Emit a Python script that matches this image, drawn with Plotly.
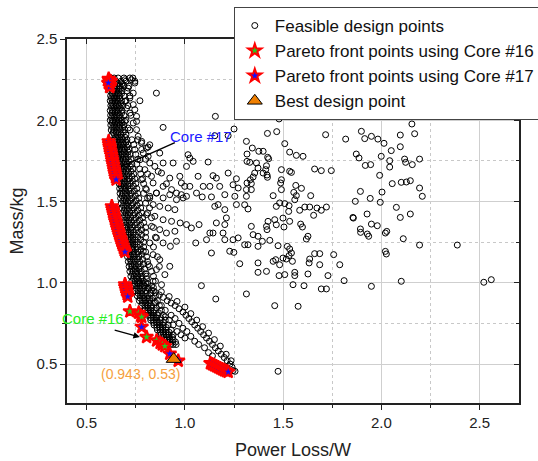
import plotly.graph_objects as go

# ---------------- data ----------------
# Feasible design points: dense band along the front (upper part)
band_upper = [
    (0.625, 2.26), (0.64, 2.26), (0.66, 2.26), (0.69, 2.26), (0.72, 2.26), (0.735, 2.26),
    (0.62, 2.24), (0.635, 2.24), (0.65, 2.24), (0.675, 2.24), (0.70, 2.24), (0.745, 2.24),
    (0.625, 2.21), (0.64, 2.21), (0.655, 2.21), (0.67, 2.21), (0.69, 2.21), (0.715, 2.21),
    (0.62, 2.18), (0.633, 2.18), (0.648, 2.18), (0.665, 2.18), (0.68, 2.18), (0.705, 2.18),
    (0.622, 2.15), (0.637, 2.15), (0.652, 2.15), (0.668, 2.15), (0.69, 2.15), (0.72, 2.15),
    (0.62, 2.12), (0.632, 2.12), (0.645, 2.12), (0.66, 2.12), (0.678, 2.12), (0.70, 2.12),
    (0.623, 2.09), (0.636, 2.09), (0.65, 2.09), (0.665, 2.09), (0.685, 2.09), (0.71, 2.09),
    (0.62, 2.06), (0.633, 2.06), (0.647, 2.06), (0.662, 2.06), (0.68, 2.06),
    (0.622, 2.03), (0.637, 2.03), (0.652, 2.03), (0.668, 2.03), (0.69, 2.03), (0.725, 2.03),
    (0.62, 2.00), (0.633, 2.00), (0.648, 2.00), (0.665, 2.00), (0.68, 2.00), (0.70, 2.00),
    (0.623, 1.97), (0.638, 1.97), (0.653, 1.97), (0.67, 1.97), (0.69, 1.97),
    (0.625, 1.94), (0.64, 1.94), (0.655, 1.94), (0.672, 1.94), (0.695, 1.94), (0.72, 1.94),
    (0.628, 1.91), (0.642, 1.91), (0.658, 1.91), (0.675, 1.91), (0.70, 1.91),
    (0.64, 1.88), (0.655, 1.88), (0.67, 1.88), (0.685, 1.88), (0.705, 1.88), (0.73, 1.88), (0.76, 1.88),
    (0.645, 1.85), (0.66, 1.85), (0.675, 1.85), (0.69, 1.85), (0.71, 1.85), (0.74, 1.85),
    (0.648, 1.82), (0.663, 1.82), (0.678, 1.82), (0.695, 1.82), (0.715, 1.82), (0.745, 1.82), (0.78, 1.82),
    (0.65, 1.79), (0.665, 1.79), (0.68, 1.79), (0.70, 1.79), (0.72, 1.79), (0.75, 1.79),
    (0.653, 1.76), (0.668, 1.76), (0.685, 1.76), (0.70, 1.76), (0.725, 1.76), (0.76, 1.76), (0.80, 1.76),
    (0.655, 1.73), (0.67, 1.73), (0.688, 1.73), (0.705, 1.73), (0.73, 1.73), (0.755, 1.73),
    (0.658, 1.70), (0.673, 1.70), (0.69, 1.70), (0.71, 1.70), (0.735, 1.70), (0.77, 1.70),
    (0.66, 1.67), (0.676, 1.67), (0.693, 1.67), (0.713, 1.67), (0.74, 1.67), (0.775, 1.67), (0.81, 1.67),
    (0.662, 1.64), (0.678, 1.64), (0.695, 1.64), (0.716, 1.64), (0.745, 1.64), (0.785, 1.64),
    (0.665, 1.61), (0.68, 1.61), (0.698, 1.61), (0.72, 1.61), (0.75, 1.61), (0.79, 1.61),
    (0.668, 1.58), (0.683, 1.58), (0.70, 1.58), (0.722, 1.58), (0.755, 1.58), (0.80, 1.58),
]

# Dense band (middle part)
band_middle = [
    (0.67, 1.55), (0.686, 1.55), (0.704, 1.55), (0.726, 1.55), (0.76, 1.55), (0.79, 1.55),
    (0.673, 1.52), (0.69, 1.52), (0.708, 1.52), (0.73, 1.52), (0.765, 1.52), (0.81, 1.52),
    (0.676, 1.49), (0.693, 1.49), (0.712, 1.49), (0.735, 1.49), (0.77, 1.49), (0.80, 1.49),
    (0.68, 1.46), (0.697, 1.46), (0.716, 1.46), (0.74, 1.46), (0.775, 1.46), (0.82, 1.46),
    (0.683, 1.43), (0.70, 1.43), (0.72, 1.43), (0.745, 1.43), (0.78, 1.43), (0.81, 1.43),
    (0.686, 1.40), (0.704, 1.40), (0.724, 1.40), (0.75, 1.40), (0.785, 1.40), (0.83, 1.40),
    (0.69, 1.37), (0.708, 1.37), (0.728, 1.37), (0.755, 1.37), (0.79, 1.37),
    (0.694, 1.34), (0.712, 1.34), (0.732, 1.34), (0.76, 1.34), (0.80, 1.34), (0.84, 1.34),
    (0.698, 1.31), (0.716, 1.31), (0.737, 1.31), (0.765, 1.31), (0.80, 1.31),
    (0.70, 1.28), (0.716, 1.28), (0.736, 1.28), (0.76, 1.28), (0.80, 1.28), (0.85, 1.28),
    (0.70, 1.25), (0.716, 1.25), (0.735, 1.25), (0.758, 1.25), (0.79, 1.25),
    (0.70, 1.22), (0.716, 1.22), (0.735, 1.22), (0.758, 1.22), (0.79, 1.22), (0.84, 1.22),
    (0.704, 1.19), (0.72, 1.19), (0.74, 1.19), (0.762, 1.19), (0.80, 1.19),
    (0.708, 1.16), (0.724, 1.16), (0.744, 1.16), (0.766, 1.16), (0.805, 1.16), (0.86, 1.16),
    (0.712, 1.13), (0.728, 1.13), (0.748, 1.13), (0.77, 1.13), (0.81, 1.13),
    (0.716, 1.10), (0.732, 1.10), (0.752, 1.10), (0.774, 1.10), (0.82, 1.10), (0.87, 1.10),
    (0.72, 1.07), (0.737, 1.07), (0.756, 1.07), (0.778, 1.07), (0.83, 1.07),
    (0.725, 1.04), (0.742, 1.04), (0.76, 1.04), (0.782, 1.04), (0.84, 1.04),
    (0.73, 1.01), (0.748, 1.01), (0.766, 1.01), (0.788, 1.01), (0.85, 1.01),
]

# Dense band (lower part)
band_lower = [
    (0.738, 0.98), (0.755, 0.98), (0.773, 0.98), (0.795, 0.98), (0.83, 0.98),
    (0.747, 0.95), (0.763, 0.95), (0.78, 0.95), (0.80, 0.95), (0.84, 0.95),
    (0.757, 0.92), (0.773, 0.92), (0.79, 0.92), (0.81, 0.92), (0.85, 0.92),
    (0.768, 0.89), (0.784, 0.89), (0.80, 0.89), (0.82, 0.89), (0.86, 0.89),
    (0.78, 0.86), (0.796, 0.86), (0.812, 0.86), (0.83, 0.86), (0.87, 0.86),
    (0.795, 0.83), (0.81, 0.83), (0.826, 0.83), (0.845, 0.83), (0.88, 0.83),
    (0.81, 0.80), (0.825, 0.80), (0.84, 0.80), (0.86, 0.80), (0.89, 0.80),
    (0.826, 0.77), (0.84, 0.77), (0.856, 0.77), (0.875, 0.77), (0.90, 0.77),
    (0.843, 0.74), (0.857, 0.74), (0.872, 0.74), (0.89, 0.74), (0.915, 0.74),
    (0.86, 0.71), (0.874, 0.71), (0.888, 0.71), (0.905, 0.71), (0.93, 0.71),
    (0.878, 0.68), (0.892, 0.68), (0.906, 0.68), (0.92, 0.68), (0.94, 0.68),
    (0.895, 0.65), (0.909, 0.65), (0.923, 0.65), (0.94, 0.65),
    (0.912, 0.62), (0.926, 0.62), (0.94, 0.62), (0.955, 0.62),
]

# Extra points filling the black core of the band
band_core = [
    (0.628, 2.225), (0.643, 2.225), (0.658, 2.225), (0.68, 2.225),
    (0.627, 2.195), (0.641, 2.195), (0.656, 2.195), (0.672, 2.195),
    (0.629, 2.165), (0.644, 2.165), (0.66, 2.165), (0.678, 2.165),
    (0.626, 2.135), (0.639, 2.135), (0.653, 2.135), (0.669, 2.135),
    (0.628, 2.105), (0.643, 2.105), (0.657, 2.105), (0.674, 2.105),
    (0.627, 2.075), (0.64, 2.075), (0.655, 2.075), (0.671, 2.075),
    (0.629, 2.045), (0.644, 2.045), (0.66, 2.045), (0.678, 2.045),
    (0.627, 2.015), (0.641, 2.015), (0.656, 2.015), (0.672, 2.015),
    (0.63, 1.985), (0.645, 1.985), (0.66, 1.985), (0.68, 1.985),
    (0.632, 1.955), (0.647, 1.955), (0.663, 1.955), (0.683, 1.955),
    (0.635, 1.925), (0.65, 1.925), (0.666, 1.925), (0.686, 1.925),
    (0.647, 1.895), (0.662, 1.895), (0.677, 1.895), (0.695, 1.895),
    (0.652, 1.865), (0.667, 1.865), (0.682, 1.865), (0.70, 1.865),
    (0.655, 1.835), (0.67, 1.835), (0.686, 1.835), (0.705, 1.835),
    (0.657, 1.805), (0.672, 1.805), (0.69, 1.805), (0.71, 1.805),
    (0.66, 1.775), (0.676, 1.775), (0.692, 1.775), (0.712, 1.775),
    (0.662, 1.745), (0.678, 1.745), (0.696, 1.745), (0.717, 1.745),
    (0.664, 1.715), (0.68, 1.715), (0.70, 1.715), (0.722, 1.715),
    (0.667, 1.685), (0.684, 1.685), (0.703, 1.685), (0.726, 1.685),
    (0.668, 1.655), (0.686, 1.655), (0.704, 1.655), (0.73, 1.655),
    (0.671, 1.625), (0.689, 1.625), (0.709, 1.625), (0.733, 1.625),
    (0.675, 1.595), (0.69, 1.595), (0.71, 1.595), (0.738, 1.595),
    (0.678, 1.565), (0.695, 1.565), (0.715, 1.565), (0.743, 1.565),
    (0.68, 1.535), (0.698, 1.535), (0.719, 1.535), (0.748, 1.535),
    (0.684, 1.505), (0.70, 1.505), (0.72, 1.505), (0.752, 1.505),
    (0.687, 1.475), (0.705, 1.475), (0.726, 1.475), (0.757, 1.475),
    (0.69, 1.445), (0.708, 1.445), (0.73, 1.445), (0.76, 1.445),
    (0.693, 1.415), (0.712, 1.415), (0.735, 1.415), (0.767, 1.415),
    (0.697, 1.385), (0.716, 1.385), (0.74, 1.385), (0.77, 1.385),
    (0.70, 1.355), (0.72, 1.355), (0.744, 1.355), (0.775, 1.355),
    (0.704, 1.325), (0.725, 1.325), (0.75, 1.325), (0.78, 1.325),
    (0.708, 1.295), (0.726, 1.295), (0.748, 1.295), (0.78, 1.295),
    (0.708, 1.265), (0.726, 1.265), (0.746, 1.265), (0.775, 1.265),
    (0.708, 1.235), (0.725, 1.235), (0.746, 1.235), (0.772, 1.235),
    (0.712, 1.205), (0.73, 1.205), (0.75, 1.205), (0.775, 1.205),
    (0.716, 1.175), (0.734, 1.175), (0.754, 1.175), (0.78, 1.175),
    (0.72, 1.145), (0.738, 1.145), (0.758, 1.145), (0.785, 1.145),
    (0.724, 1.115), (0.742, 1.115), (0.762, 1.115), (0.79, 1.115),
    (0.728, 1.085), (0.746, 1.085), (0.766, 1.085), (0.795, 1.085),
    (0.733, 1.055), (0.75, 1.055), (0.77, 1.055), (0.80, 1.055),
    (0.738, 1.025), (0.756, 1.025), (0.776, 1.025), (0.805, 1.025),
    (0.745, 0.995), (0.763, 0.995), (0.783, 0.995), (0.81, 0.995),
    (0.753, 0.965), (0.77, 0.965), (0.79, 0.965), (0.815, 0.965),
    (0.762, 0.935), (0.78, 0.935), (0.80, 0.935), (0.825, 0.935),
    (0.772, 0.905), (0.79, 0.905), (0.81, 0.905), (0.835, 0.905),
    (0.784, 0.875), (0.80, 0.875), (0.82, 0.875), (0.845, 0.875),
    (0.797, 0.845), (0.813, 0.845), (0.83, 0.845), (0.855, 0.845),
    (0.81, 0.815), (0.826, 0.815), (0.843, 0.815), (0.865, 0.815),
    (0.825, 0.785), (0.84, 0.785), (0.856, 0.785), (0.877, 0.785),
    (0.84, 0.755), (0.855, 0.755), (0.87, 0.755), (0.89, 0.755),
    (0.857, 0.725), (0.871, 0.725), (0.886, 0.725), (0.905, 0.725),
    (0.874, 0.695), (0.888, 0.695), (0.903, 0.695), (0.92, 0.695),
    (0.892, 0.665), (0.906, 0.665), (0.92, 0.665), (0.936, 0.665),
    (0.909, 0.635), (0.923, 0.635), (0.937, 0.635), (0.952, 0.635),
]

# Second, lower branch of feasible points
branch_low = [
    (0.77, 1.00), (0.79, 0.985), (0.81, 0.97), (0.83, 0.955), (0.85, 0.94), (0.87, 0.925),
    (0.89, 0.91), (0.91, 0.89), (0.93, 0.875), (0.95, 0.86), (0.97, 0.84), (0.99, 0.82),
    (1.005, 0.80), (1.02, 0.78), (1.035, 0.76), (1.05, 0.74), (1.065, 0.72), (1.08, 0.70),
    (1.095, 0.68), (1.11, 0.66), (1.125, 0.64), (1.14, 0.62), (1.155, 0.60), (1.17, 0.58),
    (1.185, 0.56), (1.20, 0.54), (1.215, 0.52), (1.23, 0.50), (1.24, 0.48), (1.245, 0.46),
    (1.255, 0.455),
    (0.80, 1.00), (0.84, 0.97), (0.88, 0.945), (0.92, 0.915), (0.96, 0.885), (1.00, 0.85),
    (1.03, 0.81), (1.06, 0.77), (1.09, 0.73), (1.12, 0.69), (1.15, 0.65), (1.18, 0.61),
    (1.21, 0.56), (1.235, 0.52),
    (0.82, 0.90), (0.85, 0.88), (0.88, 0.86), (0.90, 0.83), (0.93, 0.80), (0.95, 0.78),
    (0.97, 0.75), (0.99, 0.72), (1.01, 0.70), (1.03, 0.67), (1.05, 0.64), (1.07, 0.62),
    (1.10, 0.60), (1.12, 0.57), (1.14, 0.55), (0.96, 0.70), (0.98, 0.68), (1.00, 0.66),
    (0.94, 0.74), (0.92, 0.77), (0.90, 0.79),
]

# Scattered points near the band
scatter_near = [
    (0.745, 2.229), (0.728, 2.249), (0.694, 2.249), (0.686, 2.219), (0.711, 2.198),
    (0.737, 2.167), (0.720, 2.137), (0.694, 2.116), (0.737, 2.096), (0.745, 2.065),
    (0.703, 2.075), (0.720, 2.044), (0.754, 2.024), (0.694, 1.993), (0.737, 1.983),
    (0.711, 1.952), (0.754, 1.942), (0.779, 1.860), (0.804, 1.829), (0.821, 1.849),
    (0.762, 1.901), (0.788, 1.798), (0.813, 1.778), (0.771, 1.757), (0.821, 1.737),
    (0.796, 1.696), (0.830, 1.655), (0.779, 1.634), (0.838, 1.614), (0.804, 1.573),
    (0.855, 1.552), (0.821, 1.521), (0.855, 2.167), (0.771, 2.120), (0.889, 1.956),
    (0.754, 1.993), (0.780, 1.870), (0.813, 1.835), (0.872, 1.798), (0.847, 1.716),
    (0.864, 1.685), (0.889, 1.737), (0.940, 1.737), (0.881, 1.675), (0.923, 1.644),
    (0.906, 1.609), (0.889, 1.593), (0.932, 1.573), (0.957, 1.552),
    (0.821, 1.532), (0.855, 1.552), (0.889, 1.522), (0.923, 1.542), (0.957, 1.511),
    (0.838, 1.481), (0.872, 1.470), (0.915, 1.460), (0.949, 1.450), (0.804, 1.419),
    (0.847, 1.409), (0.889, 1.388), (0.932, 1.378), (0.976, 1.368), (0.830, 1.347),
    (0.872, 1.327), (0.906, 1.306), (0.949, 1.317), (0.855, 1.276), (0.889, 1.245),
    (0.821, 1.245), (0.957, 1.255), (0.788, 1.194), (0.838, 1.173), (0.872, 1.142),
    (0.813, 1.112), (0.855, 1.081), (0.898, 1.050), (0.804, 1.040), (0.838, 1.009),
    (0.881, 0.988), (0.926, 1.224), (0.923, 1.101),
]

# Scattered points in the middle of the plot
scatter_mid = [
    (1.155, 2.024), (1.250, 1.946), (1.152, 1.905), (1.220, 1.905), (1.016, 1.788),
    (1.025, 1.767), (1.042, 1.747), (1.008, 1.716), (1.118, 1.743), (1.067, 1.655),
    (1.143, 1.659), (1.160, 1.644), (1.220, 1.675), (1.262, 1.640), (0.974, 1.655),
    (0.982, 1.614), (0.999, 1.593), (1.025, 1.593), (1.093, 1.593), (1.127, 1.593),
    (1.177, 1.593), (1.245, 1.603), (1.271, 1.583), (1.059, 1.552), (1.203, 1.542),
    (1.254, 1.532), (1.008, 1.532), (0.982, 1.542), (0.991, 1.522), (1.088, 1.528),
    (1.135, 1.528), (1.008, 1.358), (1.033, 1.337), (1.072, 1.358), (1.127, 1.306),
    (1.160, 1.368), (1.203, 1.358), (1.211, 1.399), (1.203, 1.450), (1.169, 1.481),
    (1.152, 1.470), (1.262, 1.481), (1.055, 1.245), (1.110, 1.265), (1.143, 1.306),
    (1.194, 1.306), (1.203, 1.265), (1.245, 1.265), (1.271, 1.276), (1.228, 1.194),
    (1.249, 1.187), (1.135, 1.183), (1.084, 0.982), (1.157, 0.900), (1.313, 0.931),
    (1.457, 0.859), (1.576, 0.855), (1.474, 0.455),
]

# Scattered points on the right side
scatter_far = [
    (1.316, 2.044), (1.479, 2.008), (1.420, 1.919), (1.467, 1.930), (1.508, 1.856),
    (1.533, 1.804), (1.567, 1.784), (1.601, 1.778), (1.716, 1.911), (1.818, 1.884),
    (1.313, 1.870), (1.343, 1.829), (1.376, 1.809), (1.398, 1.809), (1.421, 1.772),
    (1.426, 1.763), (1.316, 1.792), (1.316, 1.747), (1.330, 1.741), (1.364, 1.737),
    (1.415, 1.720), (1.411, 1.696), (1.372, 1.706), (1.355, 1.675), (1.398, 1.675),
    (1.418, 1.663), (1.420, 1.649), (1.347, 1.651), (1.333, 1.634), (1.316, 1.614),
    (1.338, 1.610), (1.313, 1.573), (1.338, 1.573), (1.313, 1.532), (1.304, 1.480),
    (1.321, 1.454), (1.491, 1.696), (1.533, 1.686), (1.542, 1.679), (1.491, 1.634),
    (1.487, 1.614), (1.491, 1.573), (1.564, 1.599), (1.593, 1.581), (1.554, 1.556),
    (1.567, 1.536), (1.559, 1.511), (1.640, 1.536), (1.660, 1.700), (1.694, 1.690),
    (1.745, 1.690), (1.449, 1.536), (1.465, 1.470), (1.482, 1.491), (1.508, 1.487),
    (1.530, 1.474), (1.528, 1.439), (1.584, 1.446), (1.610, 1.466), (1.635, 1.466),
    (1.672, 1.460), (1.694, 1.446), (1.720, 1.466), (1.655, 1.415), (1.457, 1.388),
    (1.465, 1.357), (1.499, 1.398), (1.504, 1.343), (1.533, 1.378), (1.589, 1.361),
    (1.598, 1.343), (1.626, 1.286), (1.618, 1.269), (1.423, 1.378), (1.415, 1.347),
    (1.418, 1.327), (1.432, 1.261), (1.372, 1.286), (1.394, 1.255), (1.372, 1.224),
    (1.347, 1.296), (1.338, 1.347), (1.321, 1.234), (1.304, 1.234), (1.279, 1.117),
    (1.474, 1.228), (1.521, 1.224), (1.533, 1.208), (1.542, 1.183), (1.530, 1.167),
    (1.516, 1.146), (1.547, 1.132), (1.499, 1.152), (1.482, 1.111), (1.479, 1.044),
    (1.508, 1.050), (1.559, 1.064), (1.559, 1.044), (1.626, 1.054), (1.660, 1.179),
    (1.686, 1.179), (1.635, 1.146), (1.632, 1.122), (1.686, 1.111), (1.757, 1.173),
    (1.788, 1.111), (1.728, 1.044), (1.550, 0.988), (1.606, 0.982), (1.694, 0.962),
    (1.720, 0.962), (1.810, 1.013), (1.372, 1.122), (1.415, 1.070), (1.372, 1.064),
    (1.449, 1.132), (1.462, 1.142),
    (1.877, 2.028), (1.898, 1.932), (1.915, 1.887), (1.949, 1.901), (1.982, 1.884),
    (2.013, 1.858), (2.050, 1.813), (2.096, 1.837), (2.096, 1.909), (2.169, 1.917),
    (2.094, 2.104), (2.155, 2.104), (2.155, 1.977), (1.872, 1.792), (1.886, 1.768),
    (1.918, 1.722), (1.945, 1.727), (1.999, 1.778), (2.042, 1.751), (2.042, 1.712),
    (1.991, 1.661), (2.055, 1.610), (2.101, 1.618), (2.127, 1.620), (2.147, 1.628),
    (2.118, 1.761), (2.123, 1.741), (2.157, 1.727), (2.194, 1.761), (2.194, 1.583),
    (2.208, 1.532), (1.867, 1.501), (1.893, 1.562), (1.943, 1.519), (1.994, 1.495),
    (2.003, 1.558), (2.076, 1.464), (2.096, 1.402), (2.147, 1.423), (1.855, 1.402),
    (1.857, 1.398), (1.927, 1.423), (1.949, 1.361), (1.979, 1.351), (1.893, 1.331),
    (1.894, 1.310), (1.928, 1.300), (1.935, 1.286), (2.020, 1.306), (2.027, 1.316),
    (2.111, 1.271), (2.194, 1.232), (2.386, 1.232), (2.020, 1.193), (2.025, 1.177),
    (2.101, 1.009), (1.949, 0.978), (2.521, 1.003), (2.559, 1.019),
]

# Pareto front points
core16_x = [0.697, 0.72, 0.765, 0.775, 0.78, 0.805, 0.856, 0.874, 0.885, 0.898]
core16_y = [0.975, 0.824, 0.815, 0.797, 0.79, 0.666, 0.645, 0.63, 0.62, 0.61]

core17_x = [0.612, 0.615, 0.618, 0.614, 0.62, 0.617, 0.622, 0.61,
            0.612, 0.614, 0.616, 0.618, 0.62, 0.622, 0.625, 0.628, 0.63, 0.632, 0.635,
            0.637, 0.64, 0.642, 0.645, 0.647, 0.65,
            0.628, 0.631, 0.634, 0.637, 0.64, 0.643, 0.646, 0.65, 0.653, 0.656,
            0.66, 0.663, 0.667, 0.671, 0.675, 0.679, 0.683, 0.687, 0.691, 0.695,
            0.695, 0.698, 0.70, 0.703, 0.706, 0.709,
            0.78, 0.923, 0.966,
            1.13, 1.14, 1.15, 1.16, 1.17, 1.18, 1.19, 1.20, 1.21, 1.22]
core17_y = [2.255, 2.245, 2.235, 2.225, 2.215, 2.205, 2.24, 2.23,
            1.87, 1.855, 1.84, 1.83, 1.815, 1.80, 1.785, 1.77, 1.755, 1.74, 1.725,
            1.71, 1.695, 1.68, 1.665, 1.65, 1.635,
            1.47, 1.455, 1.44, 1.425, 1.41, 1.395, 1.38, 1.365, 1.35, 1.335,
            1.32, 1.305, 1.29, 1.275, 1.26, 1.245, 1.23, 1.215, 1.20, 1.19,
            0.99, 0.975, 0.96, 0.945, 0.93, 0.915,
            0.728, 0.563, 0.52,
            0.505, 0.498, 0.492, 0.486, 0.48, 0.474, 0.468, 0.462, 0.457, 0.452]

best_x = [0.943]
best_y = [0.53]

x_ticks = [0.5, 1.0, 1.5, 2.0, 2.5]
y_ticks = [0.5, 1.0, 1.5, 2.0, 2.5]

# ---------------- figure ----------------
feasible = (band_upper + band_middle + band_lower + band_core + branch_low
            + scatter_near + scatter_mid + scatter_far)
feas_x = [p[0] for p in feasible]
feas_y = [p[1] for p in feasible]

FONT = "Liberation Sans, Arial, sans-serif"

fig = go.Figure()
fig.add_trace(go.Scatter(
    x=feas_x, y=feas_y, mode="markers", name="Feasible design points",
    marker=dict(symbol="circle-open", size=6, color="black", line=dict(width=1, color="black")),
))
fig.add_trace(go.Scatter(
    x=core16_x, y=core16_y, mode="markers", name="Pareto front points using Core #16",
    marker=dict(symbol="star", size=10, color="#22cc22", line=dict(width=2, color="red")),
))
fig.add_trace(go.Scatter(
    x=core17_x, y=core17_y, mode="markers", name="Pareto front points using Core #17",
    marker=dict(symbol="star", size=10, color="#1010ff", line=dict(width=2, color="red")),
))
fig.add_trace(go.Scatter(
    x=best_x, y=best_y, mode="markers", name="Best design point",
    marker=dict(symbol="triangle-up", size=13, color="#f07f00", line=dict(width=1, color="black")),
))

xr = [0.4, 2.7]
yr = [0.26, 2.5]

axis_common = dict(
    showline=True, linecolor="#222", linewidth=1.5,
    ticks="outside", ticklen=5, tickwidth=1.2, tickcolor="#222",
    showgrid=True, gridcolor="#cfcfcf", gridwidth=1,
    zeroline=False,
    tickfont=dict(family=FONT, size=15, color="#222"),
)

fig.update_layout(
    width=538, height=461,
    margin=dict(l=67, r=19, t=39, b=58, autoexpand=False),
    paper_bgcolor="white", plot_bgcolor="white",
    font=dict(family=FONT, color="#222"),
    xaxis=dict(
        range=xr, tickvals=x_ticks, ticktext=[f"{v:.1f}" for v in x_ticks],
        title=dict(text="Power Loss/W", font=dict(family=FONT, size=18, color="#222"), standoff=14),
        minor=dict(dtick=0.25, tick0=0.25, showgrid=True, gridcolor="#c8c8c8", griddash="dot",
                   ticks="outside", ticklen=3, tickcolor="#222"),
        **axis_common,
    ),
    yaxis=dict(
        range=yr, tickvals=y_ticks, ticktext=[f"{v:.1f}" for v in y_ticks],
        title=dict(text="Mass/kg", font=dict(family=FONT, size=18, color="#222"), standoff=8),
        minor=dict(dtick=0.25, tick0=0.25, showgrid=True, gridcolor="#c8c8c8", griddash="dot",
                   ticks="outside", ticklen=3, tickcolor="#222"),
        **axis_common,
    ),
    xaxis2=dict(
        overlaying="x", side="top", anchor="y", range=xr, tickvals=x_ticks,
        showticklabels=False, showgrid=False, zeroline=False,
        showline=True, linecolor="#222", linewidth=1.5,
        ticks="inside", ticklen=5, tickwidth=1.2, tickcolor="#222",
        minor=dict(dtick=0.25, tick0=0.25, ticks="inside", ticklen=3, tickcolor="#222", showgrid=False),
    ),
    yaxis2=dict(
        overlaying="y", side="right", anchor="x", range=yr, tickvals=y_ticks,
        showticklabels=False, showgrid=False, zeroline=False,
        showline=True, linecolor="#222", linewidth=1.5,
        ticks="inside", ticklen=5, tickwidth=1.2, tickcolor="#222",
        minor=dict(dtick=0.25, tick0=0.25, ticks="inside", ticklen=3, tickcolor="#222", showgrid=False),
    ),
    legend=dict(
        x=0.369, y=1.088, xanchor="left", yanchor="top",
        bgcolor="white", bordercolor="#444", borderwidth=1,
        font=dict(family=FONT, size=17, color="#111"),
        tracegroupgap=0,
    ),
    showlegend=True,
)

# invisible trace to activate the mirrored axes
fig.add_trace(go.Scatter(x=[None], y=[None], xaxis="x2", yaxis="y2", showlegend=False, hoverinfo="skip"))

# annotations
fig.add_shape(type="line", x0=0.949, y0=1.862, x1=0.678, y1=1.716,
              line=dict(color="black", width=1.5), xref="x", yref="y")
fig.add_annotation(x=1.081, y=1.899, text="Core #17", showarrow=False,
                   font=dict(family=FONT, size=15, color="#1a1aff"))
fig.add_annotation(x=0.532, y=0.779, text="Core #16", showarrow=False,
                   font=dict(family=FONT, size=15, color="#22ee22"))
fig.add_annotation(x=0.771, y=0.666, ax=0.635, ay=0.711, axref="x", ayref="y",
                   text="", showarrow=True, arrowhead=2, arrowsize=1, arrowwidth=1.3,
                   arrowcolor="black")
fig.add_annotation(x=0.774, y=0.438, text="(0.943, 0.53)", showarrow=False,
                   font=dict(family=FONT, size=14, color="#f5a040"))

fig.write_html("out.html", config={"displayModeBar": False},
               post_script="document.body.style.margin='0px';")
